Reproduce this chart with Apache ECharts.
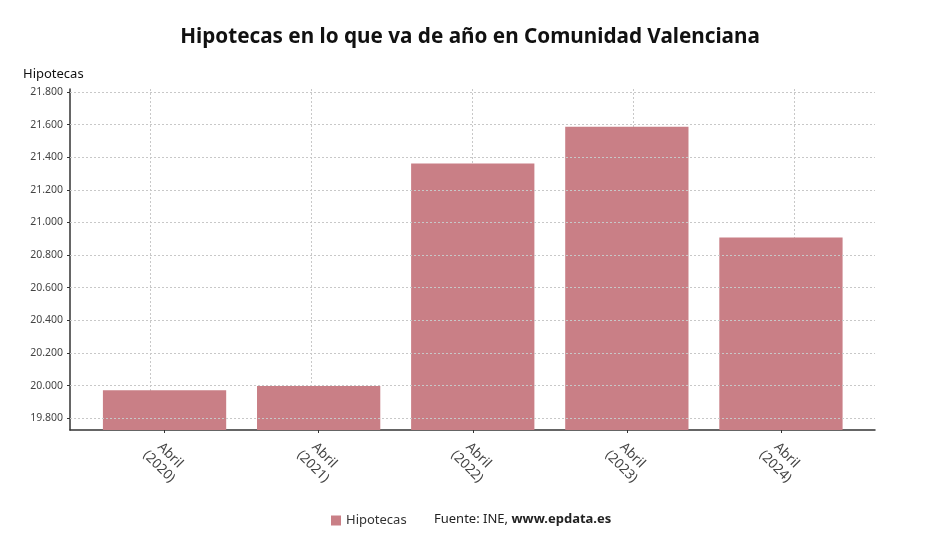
<!DOCTYPE html>
<html>
<head>
<meta charset="utf-8">
<script src="https://cdn.jsdelivr.net/npm/echarts@6/dist/echarts.min.js"></script>
<style>
  html, body { margin: 0; padding: 0; background: #fff; }
  #chart { width: 940px; height: 552px; }
</style>
</head>
<body>
<div id="chart"></div>
<script>
const categories = ["Abril\n(2020)", "Abril\n(2021)", "Abril\n(2022)", "Abril\n(2023)", "Abril\n(2024)"];
const hipotecas = [19972, 19998, 21361, 21586, 20908];
const yMin = 19728;
const yMax = 21818;
const yTicks = [19800, 20000, 20200, 20400, 20600, 20800, 21000, 21200, 21400, 21600, 21800];

const font = "'Noto Sans', 'Open Sans', sans-serif";
const barColor = "#c97f86";

const fmt = (v) => String(v).replace(/\B(?=(\d{3})+(?!\d))/g, ".");

const chart = echarts.init(document.getElementById("chart"));

const option = {
    animation: false,
    textStyle: { fontFamily: font },
    title: [
        {
            text: "Hipotecas en lo que va de año en Comunidad Valenciana",
            left: "center",
            top: 22,
            textStyle: { fontSize: 20.7, fontWeight: "bold", color: "#111", fontFamily: font },
        },
        {
            text: "{a|Fuente: INE, }{b|www.epdata.es}",
            left: 429,
            top: 508,
            textStyle: {
                fontWeight: "normal",
                rich: {
                    a: { fontSize: 13, color: "#222", fontWeight: "normal", fontFamily: font },
                    b: { fontSize: 13, color: "#222", fontWeight: "bold", fontFamily: font },
                },
            },
        },
    ],
    legend: {
        left: 326,
        top: 509,
        itemWidth: 10,
        itemHeight: 10,
        itemGap: 6,
        icon: "rect",
        textStyle: { fontSize: 13, color: "#333", fontFamily: font },
        data: ["Hipotecas"],
    },
    grid: [
        { left: 70, right: 65, top: 89, bottom: 122 },
        { left: 87.5, right: 82, top: 89, bottom: 122 },
    ],
    xAxis: [
        {
            type: "category",
            gridIndex: 0,
            data: categories,
            axisLine: { show: true, lineStyle: { color: "#333", width: 1.5 } },
            axisTick: { show: false },
            axisLabel: { show: false },
            splitLine: {
                show: true,
                alignWithLabel: true,
                lineStyle: { color: "#c8c8c8", type: [2, 2], width: 1 },
            },
        },
        {
            type: "category",
            gridIndex: 1,
            data: categories,
            axisLine: { show: false },
            axisTick: { show: true, alignWithLabel: true, length: 3, lineStyle: { color: "#333" } },
            axisLabel: {
                rotate: -45,
                margin: 31,
                align: "center",
                verticalAlign: "middle",
                fontSize: 13.5,
                lineHeight: 16,
                color: "#444",
                fontFamily: font,
            },
        },
    ],
    yAxis: [
        {
            type: "value",
            gridIndex: 0,
            min: yMin,
            max: yMax,
            name: "Hipotecas",
            nameLocation: "end",
            nameGap: 8,
            nameTextStyle: { fontSize: 13, color: "#111", align: "left", padding: [0, 0, 0, -47] },
            axisLine: { show: true, lineStyle: { color: "#333", width: 1.5 } },
            axisTick: { show: true, length: 3, lineStyle: { color: "#333" }, customValues: yTicks },
            axisLabel: {
                fontSize: 10.5,
                color: "#444",
                margin: 7,
                formatter: fmt,
                customValues: yTicks,
            },
            splitLine: { show: false },
        },
        {
            type: "value",
            gridIndex: 1,
            min: yMin,
            max: yMax,
            show: false,
        },
    ],
    series: [
        {
            name: "Hipotecas",
            type: "bar",
            xAxisIndex: 1,
            yAxisIndex: 1,
            data: hipotecas,
            barCategoryGap: "20%",
            itemStyle: { color: barColor },
        },
        {
            name: "lineas",
            type: "line",
            xAxisIndex: 0,
            yAxisIndex: 0,
            data: [],
            markLine: {
                silent: true,
                symbol: "none",
                label: { show: false },
                lineStyle: { color: "#c8c8c8", type: [2, 2], width: 1 },
                data: yTicks.map((v) => ({ yAxis: v })),
            },
        },
    ],
};

chart.setOption(option);
</script>
</body>
</html>
